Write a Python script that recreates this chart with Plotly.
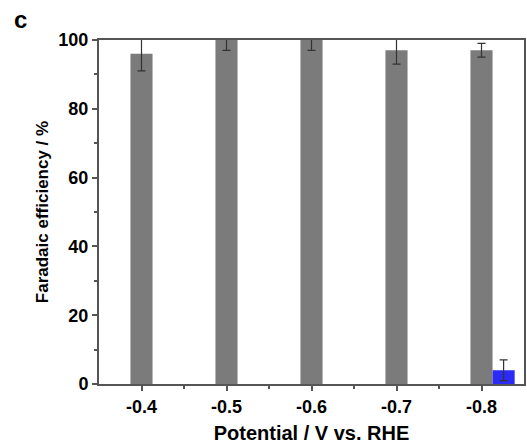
import plotly.graph_objects as go

potentials = ["-0.4", "-0.5", "-0.6", "-0.7", "-0.8"]
fe_main = [96, 100, 100, 97, 97]
fe_main_err = [5, 3, 3, 4, 2]
fe_minor = [0, 0, 0, 0, 4]
fe_minor_err = [0, 0, 0, 0, 3]

xidx = list(range(len(potentials)))
font = "Liberation Sans, Arial, sans-serif"
axcol = "#555555"

fig = go.Figure()
fig.add_trace(go.Bar(
    x=xidx, y=fe_main, width=0.26, offset=-0.13,
    marker=dict(color="#7b7b7b", line=dict(width=0)),
    error_y=dict(type="data", array=fe_main_err, color="#333333", thickness=1.2, width=4),
    cliponaxis=True, showlegend=False,
))
fig.add_trace(go.Bar(
    x=[i for i, v in zip(xidx, fe_minor) if v > 0],
    y=[v for v in fe_minor if v > 0], width=0.26, offset=0.13,
    marker=dict(color="#2b2bf5", line=dict(width=0)),
    error_y=dict(type="data", array=[e for e, v in zip(fe_minor_err, fe_minor) if v > 0],
                 color="#333333", thickness=1.2, width=4),
    showlegend=False,
))

fig.update_layout(
    width=527, height=444,
    margin=dict(l=99, r=1, t=40, b=60),
    plot_bgcolor="white", paper_bgcolor="white",
    barmode="overlay",
    font=dict(family=font, color="black"),
    xaxis=dict(
        range=[-0.5, 4.5], tickmode="array", tickvals=xidx, ticktext=potentials,
        ticks="outside", ticklen=5, tickwidth=1.5, tickcolor=axcol,
        showline=True, linecolor=axcol, linewidth=2, mirror=True,
        showgrid=False, zeroline=False,
        tickfont=dict(size=18, family=font, weight="bold"),
        title=dict(text="<b>Potential / V vs. RHE</b>", font=dict(size=20, family=font), standoff=12),
        minor=dict(tickvals=[0.5, 1.5, 2.5, 3.5], ticks="outside", ticklen=3, tickcolor=axcol),
    ),
    yaxis=dict(
        range=[0, 100], tickvals=[0, 20, 40, 60, 80, 100],
        ticks="outside", ticklen=5, tickwidth=1.5, tickcolor=axcol,
        showline=True, linecolor=axcol, linewidth=2, mirror=True,
        showgrid=False, zeroline=False,
        tickfont=dict(size=18, family=font, weight="bold"),
        title=dict(text="<b>Faradaic efficiency / %</b>", font=dict(size=17, family=font), standoff=5),
        minor=dict(dtick=10, ticks="outside", ticklen=3, tickcolor=axcol),
    ),
    annotations=[dict(text="<b>c</b>", x=-0.205, y=1.105, xref="paper", yref="paper",
                      xanchor="left", yanchor="top", showarrow=False,
                      font=dict(size=24, family=font))],
)
fig.write_html("out.html")
